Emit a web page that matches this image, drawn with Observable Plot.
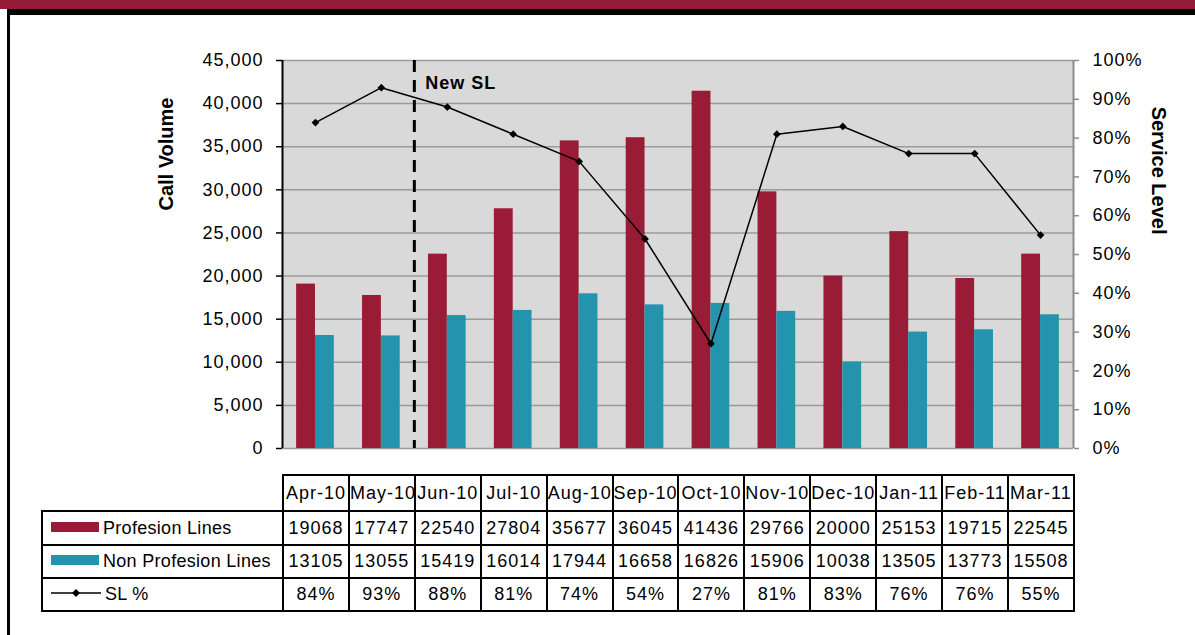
<!DOCTYPE html>
<html>
<head>
<meta charset="utf-8">
<script src="https://cdn.jsdelivr.net/npm/d3@7"></script>
<script src="https://cdn.jsdelivr.net/npm/@observablehq/plot@0.6"></script>
<style>
  html, body { margin: 0; padding: 0; background: #fff; }
  #wrap { position: relative; width: 1195px; height: 635px; overflow: hidden; background: #fff;
          font-family: "Liberation Sans", Arial, sans-serif; }
  #topRed { position: absolute; left: 0; top: 0; width: 1195px; height: 9px; background: #951a36; }
  #topBlack { position: absolute; left: 7px; top: 9px; width: 1188px; height: 6px; background: #000; }
  #leftBlack { position: absolute; left: 7px; top: 9px; width: 3px; height: 626px; background: #000; }
  #chart { position: absolute; left: 0; top: 0; }
  #chart svg text { letter-spacing: 1px; }
  #chart svg text.title { letter-spacing: 0; }
  #tbl { position: absolute; left: 41px; top: 474px; border-collapse: collapse; table-layout: fixed;
         font-size: 18px; letter-spacing: 1px; color: #000; }
  #tbl td { border: 2px solid #000; padding: 0; text-align: center; white-space: nowrap; overflow: hidden; }
  #tbl td.blank { border: none; }
  #tbl td.leg { text-align: left; letter-spacing: 0.3px; }
  .sw { display: inline-block; width: 48px; height: 10px; vertical-align: middle; margin: 0 4px 0 8px; position: relative; top: -2px; }
</style>
</head>
<body>
<div id="wrap">
  <div id="chart"></div>
  <div id="topRed"></div>
  <div id="topBlack"></div>
  <div id="leftBlack"></div>
  <table id="tbl"></table>
</div>
<script>
// ---- data ----
const months = ["Apr-10","May-10","Jun-10","Jul-10","Aug-10","Sep-10","Oct-10","Nov-10","Dec-10","Jan-11","Feb-11","Mar-11"];
const profesion = [19068,17747,22540,27804,35677,36045,41436,29766,20000,25153,19715,22545];
const nonProfesion = [13105,13055,15419,16014,17944,16658,16826,15906,10038,13505,13773,15508];
const slPercent = [84,93,88,81,74,54,27,81,83,76,76,55];
const seriesNames = ["Profesion Lines","Non Profesion Lines","SL %"];
const leftTicks = [0,5000,10000,15000,20000,25000,30000,35000,40000,45000];
const rightTicks = [0,10,20,30,40,50,60,70,80,90,100];
const newSL = [{index: 1.5, label: "New SL"}];
const yTitle = ["Call Volume"];
const y2Title = ["Service Level"];

const colProf = "#991b35";
const colNon = "#2393ae";
const yMax = 45000;
const barW = 1 / 3.5; // Excel gap width 150%

const rows = months.map((m, i) => ({i, month: m, prof: profesion[i], non: nonProfesion[i], sl: slPercent[i]}));

const chart = Plot.plot({
  width: 1195,
  height: 460,
  marginLeft: 282,
  marginRight: 122,
  marginTop: 60,
  marginBottom: 12,
  style: {fontFamily: "'Liberation Sans', Arial, sans-serif", fontSize: "18px", color: "#000", background: "transparent"},
  x: {type: "linear", domain: [-0.5, months.length - 0.5], axis: null},
  y: {domain: [0, yMax], label: null},
  marks: [
    Plot.frame({fill: "#d9d9d9", stroke: null}),
    Plot.ruleY(leftTicks, {stroke: "#9a9a9a", strokeWidth: 1.5}),
    Plot.rectY(rows, {x1: d => d.i - barW, x2: d => d.i, y1: 0, y2: "prof", fill: colProf}),
    Plot.rectY(rows, {x1: d => d.i, x2: d => d.i + barW, y1: 0, y2: "non", fill: colNon}),
    Plot.ruleX(newSL, {x: "index", stroke: "#000", strokeWidth: 3, strokeDasharray: "12,8"}),
    Plot.text(newSL, {x: "index", text: "label", frameAnchor: "top", dy: 16, dx: 11, textAnchor: "start", fontWeight: "bold"}),
    Plot.line(rows, {x: "i", y: d => d.sl / 100 * yMax, stroke: "#000", strokeWidth: 1.5}),
    Plot.dot(rows, {x: "i", y: d => d.sl / 100 * yMax, symbol: "diamond2", r: 3.5, fill: "#000", stroke: null}),
    Plot.ruleX([-0.5], {stroke: "#000", strokeWidth: 2}),
    Plot.ruleX([months.length - 0.5], {stroke: "#8c8c8c", strokeWidth: 2}),
    Plot.axisY(leftTicks, {anchor: "left", tickFormat: d3.format(","), tickSize: 6, tickPadding: 13, stroke: "#000", strokeWidth: 1.5, label: null}),
    Plot.axisY(rightTicks.map(v => v / 100 * yMax), {anchor: "right", tickFormat: d => Math.round(d / yMax * 100) + "%", tickSize: 5, tickPadding: 14, stroke: "#8c8c8c", strokeWidth: 1.5, fill: "#000", label: null}),
    Plot.text(yTitle, {text: d => d, frameAnchor: "left", rotate: -90, dx: -116, dy: -44, fontWeight: "bold", fontSize: 20}),
    Plot.text(y2Title, {text: d => d, frameAnchor: "right", rotate: 90, dx: 85, dy: -20, fontWeight: "bold", fontSize: 20})
  ]
});
document.getElementById("chart").appendChild(chart);
chart.querySelectorAll("text").forEach(t => {
  if (t.textContent === "Call Volume" || t.textContent === "Service Level") t.setAttribute("class", "title");
});

// ---- data table ----
const tbl = d3.select("#tbl");
const colW = (1073 - 282) / months.length;
const cg = tbl.append("colgroup");
cg.append("col").style("width", "241px");
months.forEach(() => cg.append("col").style("width", colW + "px"));
tbl.style("width", (241 + colW * months.length) + "px");

const hdr = tbl.append("tr").style("height", "36px");
hdr.append("td").attr("class", "blank");
months.forEach(m => hdr.append("td").text(m));

function legendCell(tr, kind, name) {
  const td = tr.append("td").attr("class", "leg");
  if (kind === "line") {
    const s = td.append("svg").attr("width", 52).attr("height", 12)
      .style("vertical-align", "middle").style("margin", "0 4px 0 6px").style("position", "relative").style("top", "-2px");
    s.append("line").attr("x1", 2).attr("x2", 52).attr("y1", 6).attr("y2", 6).attr("stroke", "#000").attr("stroke-width", 1.5);
    s.append("path").attr("d", d3.symbol(d3.symbolDiamond2, 40)()).attr("transform", "translate(27,6)").attr("fill", "#000");
  } else {
    td.append("span").attr("class", "sw").style("background", kind);
  }
  td.append("span").text(name);
}

const r1 = tbl.append("tr").style("height", "34px");
legendCell(r1, colProf, seriesNames[0]);
profesion.forEach(v => r1.append("td").text(v));
const r2 = tbl.append("tr").style("height", "33px");
legendCell(r2, colNon, seriesNames[1]);
nonProfesion.forEach(v => r2.append("td").text(v));
const r3 = tbl.append("tr").style("height", "33px");
legendCell(r3, "line", seriesNames[2]);
slPercent.forEach(v => r3.append("td").text(v + "%"));
</script>
</body>
</html>
